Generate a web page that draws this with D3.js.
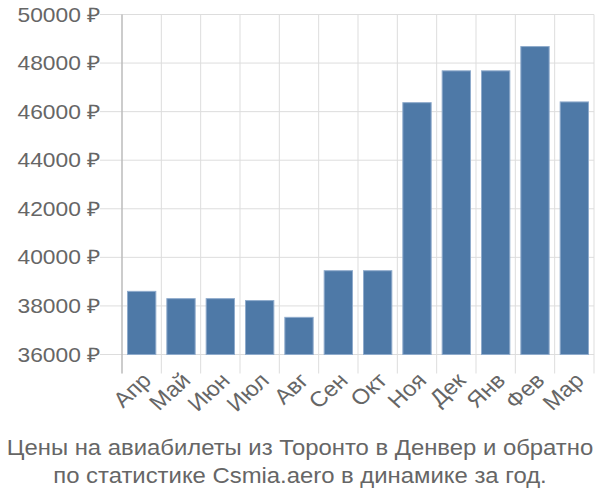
<!DOCTYPE html>
<html><head><meta charset="utf-8">
<script src="https://cdn.jsdelivr.net/npm/d3@7"></script>
<style>body{margin:0;background:#fff}svg{display:block}text{font-family:"Liberation Sans",Arial,sans-serif}</style>
</head><body><svg id="c" width="600" height="500"></svg>
<script>
const months = ["Апр","Май","Июн","Июл","Авг","Сен","Окт","Ноя","Дек","Янв","Фев","Мар"];
const prices = [38600,38300,38300,38220,37530,39450,39450,46370,47680,47680,48680,46400];
const yTicks = [36000,38000,40000,42000,44000,46000,48000,50000];
const titleLines = ["Цены на авиабилеты из Торонто в Денвер и обратно","по статистике Csmia.aero в динамике за год."];

const svg = d3.select("#c");
const L = 122, R = 594, T = 14.5, B = 354.5;
const x = d3.scaleBand().domain(months).range([L, R]).padding(0);
const y = d3.scaleLinear().domain([36000, 50000]).range([B, T]);
const grid = "#dddddd", txt = "#666666";

svg.append("g").selectAll("line").data(yTicks).join("line")
  .attr("x1", 100).attr("x2", R).attr("y1", d => y(d)).attr("y2", d => y(d))
  .attr("stroke", grid).attr("stroke-width", 1);
const bounds = months.map(m => x(m)).concat([R]);
svg.append("g").selectAll("line").data(bounds).join("line")
  .attr("x1", d => d).attr("x2", d => d).attr("y1", T).attr("y2", B + 19)
  .attr("stroke", grid).attr("stroke-width", 1);
svg.append("line").attr("x1", L).attr("x2", L).attr("y1", T).attr("y2", B + 19)
  .attr("stroke", "#aaaaaa").attr("stroke-width", 1);

const bw = x.bandwidth();
const inset = bw * 0.14;
svg.append("g").selectAll("rect").data(prices).join("rect")
  .attr("x", (d, i) => x(months[i]) + inset)
  .attr("width", bw - 2 * inset)
  .attr("y", d => y(d))
  .attr("height", d => B - y(d))
  .attr("fill", "#4e79a7").attr("stroke", "#8fabcc").attr("stroke-width", 1);

svg.append("g").selectAll("text").data(yTicks).join("text")
  .attr("transform", d => `translate(100,${y(d)}) scale(1.14,1)`)
  .attr("dy", "0.35em")
  .attr("text-anchor", "end").attr("fill", txt).style("font-size", "20px")
  .text(d => d + " ₽");

svg.append("g").selectAll("text").data(months).join("text")
  .attr("transform", d => `translate(${x(d) + bw / 2 + 5},${B + 22}) scale(1.1,1) rotate(-45)`)
  .attr("text-anchor", "end").attr("dy", "0.35em").attr("fill", txt).style("font-size", "21.5px")
  .text(d => d);

svg.append("g").selectAll("text").data(titleLines).join("text")
  .attr("transform", (d, i) => `translate(300,${455 + i * 27.5}) scale(1.1,1)`)
  .attr("text-anchor", "middle").attr("fill", txt).style("font-size", "21.7px")
  .text(d => d);
</script></body></html>
